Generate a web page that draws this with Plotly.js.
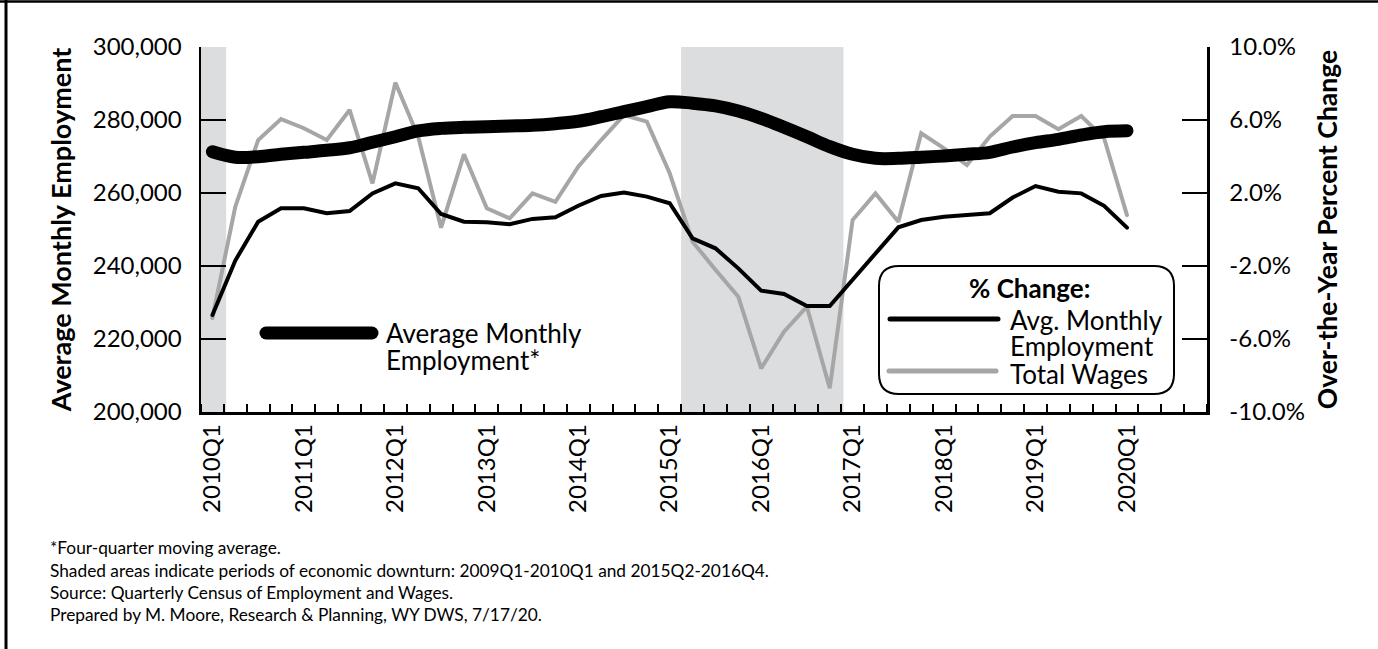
<!DOCTYPE html>
<html>
<head>
<meta charset="utf-8">
<script src="https://cdn.plot.ly/plotly-3.0.1.min.js"></script>
<style>
html, body { margin: 0; padding: 0; background: #ffffff; }
#chart { width: 1378px; height: 649px; }
.js-line { stroke-linecap: round; }
.shapelayer path { stroke-linecap: round; }
</style>
</head>
<body>
<div id="chart"></div>
<script>
// ---------- DATA ----------
const quarters = [
  '2010Q1','2010Q2','2010Q3','2010Q4','2011Q1','2011Q2','2011Q3','2011Q4',
  '2012Q1','2012Q2','2012Q3','2012Q4','2013Q1','2013Q2','2013Q3','2013Q4',
  '2014Q1','2014Q2','2014Q3','2014Q4','2015Q1','2015Q2','2015Q3','2015Q4',
  '2016Q1','2016Q2','2016Q3','2016Q4','2017Q1','2017Q2','2017Q3','2017Q4',
  '2018Q1','2018Q2','2018Q3','2018Q4','2019Q1','2019Q2','2019Q3','2019Q4',
  '2020Q1'
];
const emptyQuarters = ['2020Q2','2020Q3','2020Q4'];

// Average monthly employment, four-quarter moving average (left axis)
const avgEmployment = [
  271300, 269800, 269950, 270600, 271150, 271700, 272400, 273900,
  275400, 277000, 277700, 278000, 278150, 278350, 278550, 279000,
  279650, 280900, 282300, 283650, 285000, 284600, 283850, 282450,
  280450, 278000, 275400, 272700, 270600, 269500, 269500, 269800,
  270150, 270600, 271150, 272600, 273800, 274700, 275900, 276800,
  277050
];

// Over-the-year % change, avg monthly employment (right axis)
const empPctChange = [
  -4.68, -1.70, 0.43, 1.16, 1.16, 0.89, 1.01, 1.98,
  2.53, 2.26, 0.85, 0.43, 0.40, 0.29, 0.58, 0.67,
  1.30, 1.84, 2.02, 1.80, 1.44, -0.49, -1.03, -2.13,
  -3.35, -3.53, -4.19, -4.19, -2.75, -1.30, 0.12, 0.52,
  0.70, 0.79, 0.89, 1.75, 2.38, 2.07, 1.98, 1.30,
  0.10
];

// Over-the-year % change, total wages (right axis)
const wagesPctChange = [
  -4.85, 1.25, 4.90, 6.05, 5.55, 4.90, 6.55, 2.53,
  8.05, 5.09, 0.10, 4.12, 1.16, 0.61, 1.98, 1.52,
  3.44, 4.90, 6.27, 5.91, 3.08, -0.67, -2.20, -3.68,
  -7.61, -5.60, -4.23, -8.70, 0.52, 1.98, 0.43, 5.27,
  4.45, 3.53, 5.09, 6.22, 6.22, 5.49, 6.22, 5.00,
  0.79
];

// Economic downturn periods (shaded)
const downturns = [['2009Q1', '2010Q1'], ['2015Q2', '2016Q4']];

// Axis ticks
const leftTickVals = [200000, 220000, 240000, 260000, 280000, 300000];
const rightTickVals = [-10, -6, -2, 2, 6, 10];
const rightTickText = ['-10.0%', '-6.0%', '-2.0%', '2.0%', '6.0%', '10.0%'];

const footnotes = [
  '*Four-quarter moving average.',
  'Shaded areas indicate periods of economic downturn: 2009Q1-2010Q1 and 2015Q2-2016Q4.',
  'Source: Quarterly Census of Employment and Wages.',
  'Prepared by M. Moore, Research & Planning, WY DWS, 7/17/20.'
];

// ---------- BUILD ----------
const allQuarters = quarters.concat(emptyQuarters);
const xIdx = quarters.map((q, i) => i);
const labelIdx = [];
const labelText = [];
allQuarters.forEach((q, i) => { if (q.endsWith('Q1') && i < quarters.length) { labelIdx.push(i); labelText.push(q); } });
const boundaries = [];
for (let i = 0; i <= allQuarters.length; i++) boundaries.push(i - 0.5);
const xRange = [-0.5, allQuarters.length - 0.5];

function qIndex(q) {
  const i = allQuarters.indexOf(q);
  return i < 0 ? -0.5 : i;
}

// plot area pixel geometry (style)
const W = 1378, H = 649;
const L = 201, R = 1207, T = 47, B = 412;
const px = x => (x - L) / (R - L);
const py = y => (B - y) / (B - T);

const FONT = 'Lato, "Open Sans", sans-serif';
const shadeColor = '#DCDDDF';
const grayColor = '#A6A6A6';

const shapes = [];
downturns.forEach(d => {
  const a = Math.max(qIndex(d[0]) - 0.5, xRange[0]);
  const b = qIndex(d[1]) + 0.6;
  shapes.push({ type: 'rect', xref: 'x', yref: 'paper', x0: a, x1: b, y0: 0, y1: 1,
    fillcolor: shadeColor, line: { width: 0 }, layer: 'below' });
});

// outer frame (top and left edges)
shapes.push({ type: 'line', xref: 'paper', yref: 'paper', x0: px(0), x1: px(W), y0: py(1.5), y1: py(1.5),
  line: { color: '#000', width: 2.5 } });
shapes.push({ type: 'line', xref: 'paper', yref: 'paper', x0: px(6), x1: px(6), y0: py(0), y1: py(H),
  line: { color: '#000', width: 3 } });

// Legend 1 (Average Monthly Employment)
shapes.push({ type: 'line', xref: 'paper', yref: 'paper', x0: px(266), x1: px(372), y0: py(333), y1: py(333),
  line: { color: '#000', width: 13 }, layer: 'above' });

// Legend 2 box (rounded)
(function () {
  const x0 = px(879), x1 = px(1174), y0 = py(394), y1 = py(266);
  const rx = 20 / (R - L), ry = 20 / (B - T);
  const p = `M ${x0 + rx},${y1} L ${x1 - rx},${y1} Q ${x1},${y1} ${x1},${y1 - ry} ` +
            `L ${x1},${y0 + ry} Q ${x1},${y0} ${x1 - rx},${y0} L ${x0 + rx},${y0} ` +
            `Q ${x0},${y0} ${x0},${y0 + ry} L ${x0},${y1 - ry} Q ${x0},${y1} ${x0 + rx},${y1} Z`;
  shapes.push({ type: 'path', xref: 'paper', yref: 'paper', path: p,
    line: { color: '#000', width: 2 }, fillcolor: '#ffffff', layer: 'above' });
})();
shapes.push({ type: 'line', xref: 'paper', yref: 'paper', x0: px(890), x1: px(998), y0: py(319), y1: py(319),
  line: { color: '#000', width: 5 }, layer: 'above' });
shapes.push({ type: 'line', xref: 'paper', yref: 'paper', x0: px(889), x1: px(996), y0: py(371), y1: py(371),
  line: { color: grayColor, width: 5 }, layer: 'above' });

const annFont = { family: FONT, size: 26, color: '#000' };
const annotations = [
  { xref: 'paper', yref: 'paper', x: px(384), y: py(333), xanchor: 'left', yanchor: 'middle',
    text: 'Average Monthly', showarrow: false, font: annFont },
  { xref: 'paper', yref: 'paper', x: px(384), y: py(360), xanchor: 'left', yanchor: 'middle',
    text: 'Employment*', showarrow: false, font: annFont },
  { xref: 'paper', yref: 'paper', x: px(1029), y: py(288), xanchor: 'center', yanchor: 'middle',
    text: '% Change:', showarrow: false, font: { family: FONT, size: 26, color: '#000', weight: 'bold' } },
  { xref: 'paper', yref: 'paper', x: px(1008), y: py(320), xanchor: 'left', yanchor: 'middle',
    text: 'Avg. Monthly', showarrow: false, font: annFont },
  { xref: 'paper', yref: 'paper', x: px(1008), y: py(346), xanchor: 'left', yanchor: 'middle',
    text: 'Employment', showarrow: false, font: annFont },
  { xref: 'paper', yref: 'paper', x: px(1008), y: py(374), xanchor: 'left', yanchor: 'middle',
    text: 'Total Wages', showarrow: false, font: annFont }
];
const footY = [547, 570, 592, 614];
footnotes.forEach((t, i) => {
  annotations.push({ xref: 'paper', yref: 'paper', x: px(48), y: py(footY[i]), xanchor: 'left', yanchor: 'middle',
    text: t, showarrow: false, font: { family: FONT, size: 17.3, color: '#000' } });
});

const traces = [
  { x: xIdx, y: wagesPctChange, name: 'Total Wages', type: 'scatter', mode: 'lines',
    xaxis: 'x', yaxis: 'y', line: { color: grayColor, width: 4 }, hoverinfo: 'skip' },
  { x: xIdx, y: empPctChange, name: 'Avg. Monthly Employment', type: 'scatter', mode: 'lines',
    xaxis: 'x', yaxis: 'y', line: { color: '#000', width: 4 }, hoverinfo: 'skip' },
  { x: xIdx, y: avgEmployment, name: 'Average Monthly Employment*', type: 'scatter', mode: 'lines',
    xaxis: 'x', yaxis: 'y2', line: { color: '#000', width: 13, shape: 'spline', smoothing: 1 }, hoverinfo: 'skip' }
];

const minorTicks = { tickmode: 'array', tickvals: boundaries, ticks: 'inside', ticklen: 8, tickwidth: 2,
  tickcolor: '#000', showgrid: false };

const layout = {
  width: W, height: H, autosize: false,
  margin: { l: L, r: W - R, t: T, b: H - B, pad: 0 },
  paper_bgcolor: '#ffffff', plot_bgcolor: 'rgba(0,0,0,0)',
  font: { family: FONT, color: '#000' },
  showlegend: false,
  xaxis: {
    type: 'linear', range: xRange, tickmode: 'array', tickvals: labelIdx, ticktext: labelText,
    tickangle: -90, ticks: '', showline: true, linewidth: 2.5, linecolor: '#000',
    showgrid: false, zeroline: false, tickfont: { family: FONT, size: 24, color: '#000' },
    minor: minorTicks, automargin: false, fixedrange: true
  },
  xaxis2: {
    type: 'linear', range: xRange, overlaying: 'x', anchor: 'free', position: 0.5,
    showline: true, linewidth: 2.5, linecolor: '#000', showticklabels: false,
    tickmode: 'array', tickvals: [], ticks: '', showgrid: false, zeroline: false,
    minor: minorTicks, automargin: false, fixedrange: true
  },
  yaxis: {
    range: [-10, 10], side: 'right', anchor: 'x', tickmode: 'array', tickvals: rightTickVals, ticktext: rightTickText,
    ticks: 'inside', ticklen: 25, tickwidth: 2.5, tickcolor: '#000', showline: true, linewidth: 2.5, linecolor: '#000',
    showgrid: false, zeroline: false, tickfont: { family: FONT, size: 24, color: '#000' },
    ticklabelstandoff: 15, automargin: false, fixedrange: true,
    title: { text: 'Over-the-Year Percent Change', standoff: 15,
      font: { family: FONT, size: 26.5, color: '#000', weight: 'bold' } }
  },
  yaxis2: {
    range: [200000, 300000], side: 'left', overlaying: 'y', anchor: 'x', tickmode: 'array',
    tickvals: leftTickVals, tickformat: ',d',
    ticks: 'inside', ticklen: 25, tickwidth: 2.5, tickcolor: '#000', showline: true, linewidth: 2.5, linecolor: '#000',
    showgrid: false, zeroline: false, tickfont: { family: FONT, size: 24, color: '#000' },
    ticklabelstandoff: 12, automargin: false, fixedrange: true,
    title: { text: 'Average Monthly Employment', standoff: 14,
      font: { family: FONT, size: 27, color: '#000', weight: 'bold' } }
  },
  shapes: shapes,
  annotations: annotations
};

Plotly.newPlot('chart', traces, layout, { staticPlot: true, displayModeBar: false });
</script>
</body>
</html>
